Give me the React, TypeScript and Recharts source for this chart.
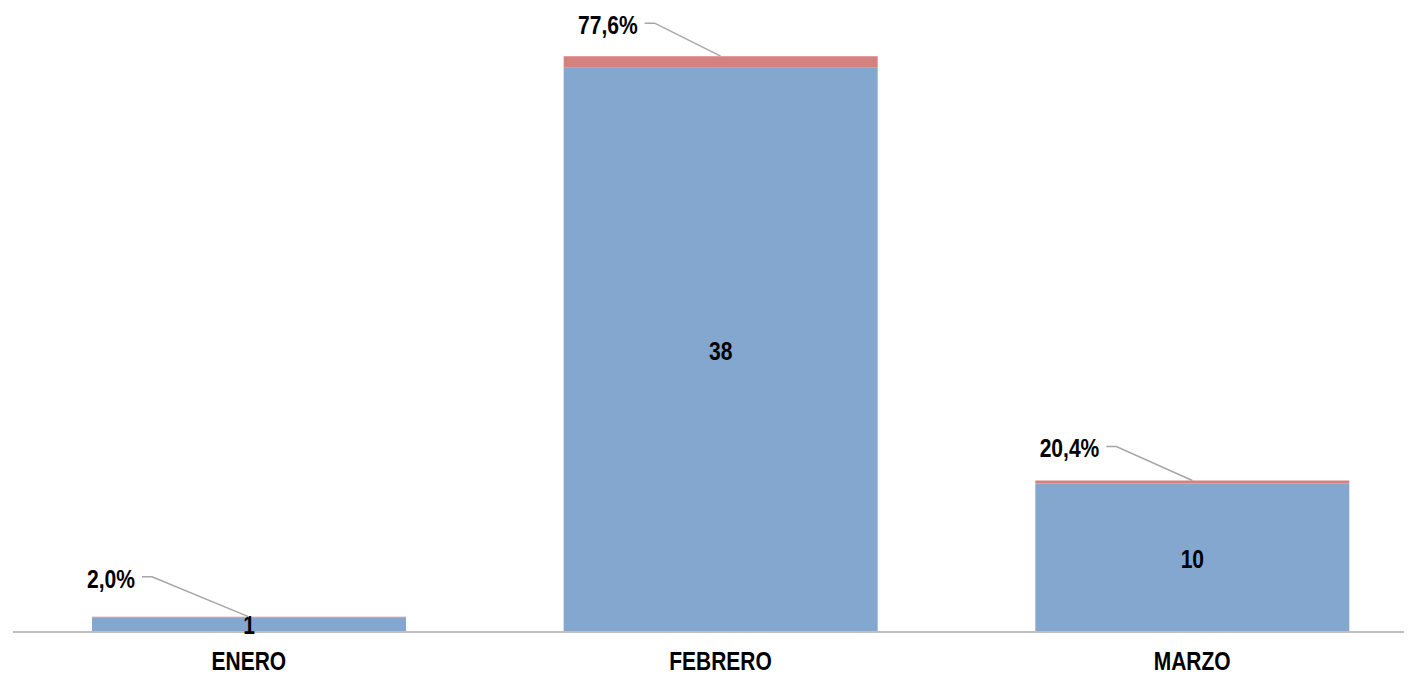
import React from "react";
import { BarChart, Bar, XAxis, YAxis, LabelList } from "recharts";

const categories = ["ENERO", "FEBRERO", "MARZO"];
const countValues = [1, 38, 10];
const shareValues = [0.02, 0.776, 0.204];
const shareLabels = ["2,0%", "77,6%", "20,4%"];
// label placement offsets (dx of text right edge from bar centre, dy of text centre above bar top)
const labelOffsets = [
  [-114, -38],
  [-83, -31],
  [-93, -32],
];

const data = categories.map((c, i) => ({
  name: c,
  count: countValues[i],
  share: shareValues[i],
}));

const FONT = "'Liberation Sans', Arial, sans-serif";

const NarrowText = ({ x, y, anchor = "middle", children, baseline = "central", size = 26, sx = 0.81 }: any) => (
  <text
    transform={`translate(${x},${y}) scale(${sx},1)`}
    x={0}
    y={0}
    textAnchor={anchor}
    dominantBaseline={baseline}
    fontFamily={FONT}
    fontWeight="bold"
    fontSize={size}
    fill="#000"
  >
    {children}
  </text>
);

const ShareLabel = (props: any) => {
  const { x, y, width, index } = props;
  const cx = x + width / 2;
  const [dx, dy] = labelOffsets[index];
  const tx = cx + dx;
  const ty = y + dy;
  return (
    <g>
      <polyline
        points={`${tx + 7},${ty - 2} ${tx + 17},${ty - 2} ${cx},${y}`}
        fill="none"
        stroke="#A6A6A6"
        strokeWidth={1.5}
      />
      <NarrowText x={tx} y={ty} anchor="end">
        {shareLabels[index]}
      </NarrowText>
    </g>
  );
};

const CountLabel = (props: any) => {
  const { x, y, width, height, value } = props;
  return (
    <NarrowText x={x + width / 2} y={y + height / 2 + 1}>
      {value}
    </NarrowText>
  );
};

const Tick = (props: any) => {
  const { x, y, payload } = props;
  return (
    <NarrowText x={x} y={y + 30} baseline="alphabetic" size={25} sx={0.84}>
      {payload.value}
    </NarrowText>
  );
};

export default function App() {
  return (
    <div style={{ width: 1404, height: 667, overflow: "hidden" }}>
      <BarChart
        width={1430}
        height={667}
        data={data}
        margin={{ top: 30, right: 10, bottom: 0, left: 5 }}
        barSize={314}
      >
        <XAxis
          dataKey="name"
          height={43}
          tickLine={false}
          axisLine={{ stroke: "#BFBFBF", strokeWidth: 2 }}
          tick={<Tick />}
          interval={0}
        />
        <YAxis hide domain={[0, 40]} />
        <Bar dataKey="count" stackId="a" fill="#84A7CF" isAnimationActive={false}>
          <LabelList dataKey="count" content={<CountLabel />} />
        </Bar>
        <Bar dataKey="share" stackId="a" fill="#D4817F" isAnimationActive={false}>
          <LabelList dataKey="share" content={<ShareLabel />} />
        </Bar>
      </BarChart>
    </div>
  );
}
